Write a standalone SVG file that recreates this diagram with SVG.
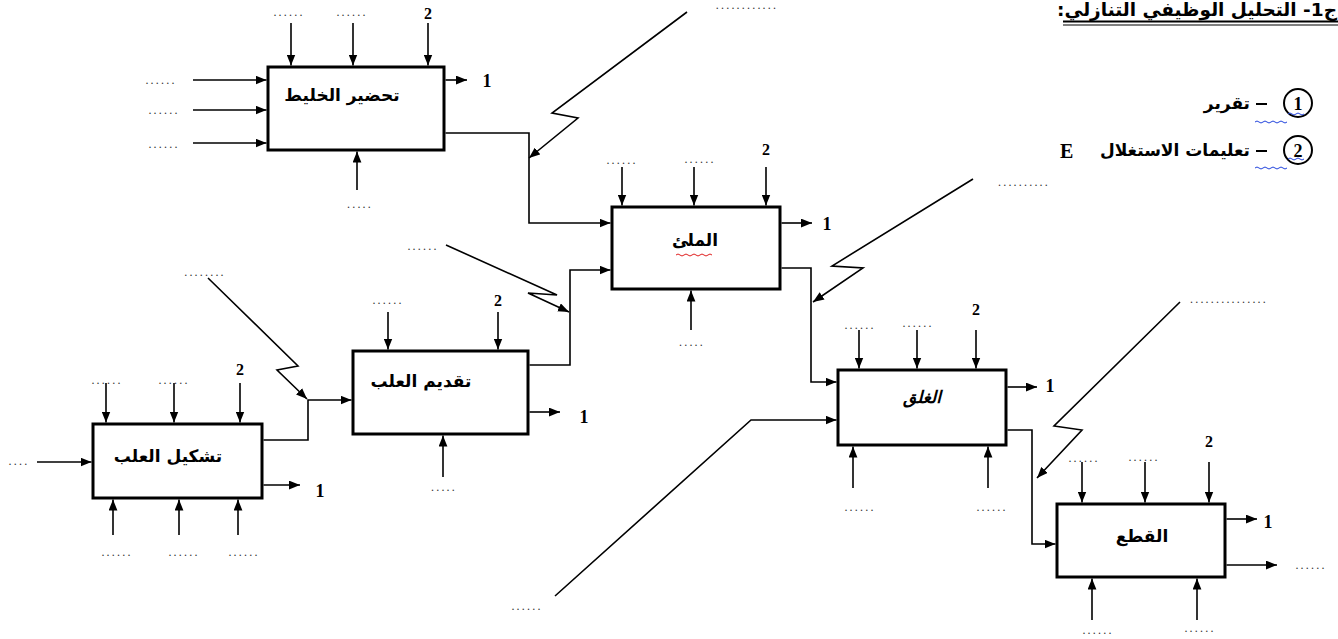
<svg xmlns="http://www.w3.org/2000/svg" width="1338" height="639" viewBox="0 0 1338 639">
<defs>
<style>
.box{fill:#fff;stroke:#000;stroke-width:3}
.ln{fill:none;stroke:#000;stroke-width:1.6}
.ar{marker-end:url(#ah)}
.dots{font-family:"Liberation Serif",serif;font-size:12px;letter-spacing:2.2px;fill:#333;text-anchor:middle}
.num{font-family:"Liberation Serif",serif;font-weight:bold;font-size:18px;fill:#000;text-anchor:middle}
.n2{font-family:"Liberation Serif",serif;font-weight:bold;font-size:16px;fill:#000;text-anchor:middle}
.lbl{font-family:"DejaVu Sans",sans-serif;font-weight:bold;font-size:17px;fill:#000;text-anchor:middle}
.ar-t{font-family:"DejaVu Sans",sans-serif;font-weight:bold;fill:#000}
.wv{fill:none;stroke-width:1}
</style>
<marker id="ah" viewBox="0 0 10 8" refX="10" refY="4" markerWidth="11" markerHeight="9" markerUnits="userSpaceOnUse" orient="auto"><path d="M0,0 L10,4 L0,8 z" fill="#000"/></marker>
</defs>
<rect width="1338" height="639" fill="#fff"/>

<!-- title -->
<g id="title">
<text class="ar-t" x="1337" y="16" font-size="18.5" direction="rtl" text-anchor="start">ج1- التحليل الوظيفي التنازلي:</text>
<line x1="1063" y1="21.5" x2="1338" y2="21.5" stroke="#000" stroke-width="2"/>
<line x1="1063" y1="25" x2="1338" y2="25" stroke="#000" stroke-width="1"/>
</g>

<!-- legend -->
<g id="legend">
<circle cx="1298" cy="103" r="14" fill="none" stroke="#000" stroke-width="2"/>
<text class="num" x="1298" y="110">1</text>
<line x1="1256" y1="104" x2="1267" y2="104" stroke="#000" stroke-width="2"/>
<text class="ar-t" x="1250" y="109" font-size="17" direction="rtl" text-anchor="start">تقرير</text>
<circle cx="1298" cy="150" r="14" fill="none" stroke="#000" stroke-width="2"/>
<text class="num" x="1298" y="157">2</text>
<line x1="1256" y1="151" x2="1267" y2="151" stroke="#000" stroke-width="2"/>
<text class="ar-t" x="1250" y="156" font-size="17" direction="rtl" text-anchor="start">تعليمات الاستغلال</text>
<text x="1060" y="158" font-family="Liberation Serif,serif" font-weight="bold" font-size="20">E</text>
<path class="wv" stroke="#2244dd" d="M1255,122 q2,-2 4,0 t4,0 t4,0 t4,0 t4,0 t4,0 t4,0 t4,0 M1288,114 q2,-2 4,0 t4,0 t4,0 t4,0"/>
<path class="wv" stroke="#2244dd" d="M1255,168 q2,-2 4,0 t4,0 t4,0 t4,0 t4,0 t4,0 t4,0 t4,0 M1288,159 q2,-2 4,0 t4,0 t4,0 t4,0"/>
</g>

<!-- nodes -->
<g id="n1">
<rect class="box" x="268" y="67" width="176" height="83"/>
<text class="lbl" x="342" y="101">تحضير الخليط</text>
</g>
<g id="n2">
<rect class="box" x="612" y="207" width="168" height="82"/>
<text class="lbl" x="695" y="246">الملئ</text>
<path class="wv" stroke="#e02020" d="M676,255 q2,-2 4,0 t4,0 t4,0 t4,0 t4,0 t4,0 t4,0 t4,0 t4,0"/>
</g>
<g id="n3">
<rect class="box" x="353" y="351" width="175" height="83"/>
<text class="lbl" x="421" y="387">تقديم العلب</text>
</g>
<g id="n4">
<rect class="box" x="93" y="424" width="169" height="74"/>
<text class="lbl" x="168" y="462">تشكيل العلب</text>
</g>
<g id="n5">
<rect class="box" x="838" y="370" width="168" height="75"/>
<text class="lbl" x="922" y="403" font-style="italic">الغلق</text>
</g>
<g id="n6">
<rect class="box" x="1057" y="504" width="168" height="73"/>
<text class="lbl" x="1142" y="542">القطع</text>
</g>

<!-- connectors -->
<g id="connectors">
<!-- n1 -->
<path class="ln ar" d="M291,23 V65.5"/>
<path class="ln ar" d="M353,23 V65.5"/>
<path class="ln ar" d="M428,23 V65.5"/>
<path class="ln ar" d="M193,80 H266.5"/>
<path class="ln ar" d="M193,110 H266.5"/>
<path class="ln ar" d="M193,143 H266.5"/>
<path class="ln ar" d="M445.5,80 H467"/>
<path class="ln ar" d="M357,190 V151.5"/>
<path class="ln ar" d="M445.5,133 H529 V223 H610.5"/>
<!-- n2 -->
<path class="ln ar" d="M622,167 V205.5"/>
<path class="ln ar" d="M694,167 V205.5"/>
<path class="ln ar" d="M766,167 V205.5"/>
<path class="ln ar" d="M781.5,223 H812"/>
<path class="ln ar" d="M691,330 V290.5"/>
<path class="ln ar" d="M781.5,268 H811 V382 H836.5"/>
<path class="ln ar" d="M687,12 L552,113 L578,118 L529,158"/>
<!-- n3 -->
<path class="ln ar" d="M388,312 V349.5"/>
<path class="ln ar" d="M498,312 V349.5"/>
<path class="ln ar" d="M529.5,412 H560"/>
<path class="ln ar" d="M443,477 V435.5"/>
<path class="ln ar" d="M529.5,365 H570 V270 H610.5"/>
<path class="ln ar" d="M446,245 L557,295 L528,293 L569,312"/>
<!-- n4 -->
<path class="ln ar" d="M106,383 V422.5"/>
<path class="ln ar" d="M174,383 V422.5"/>
<path class="ln ar" d="M240,383 V422.5"/>
<path class="ln ar" d="M37,462 H91.5"/>
<path class="ln ar" d="M263.5,485 H300"/>
<path class="ln ar" d="M113,535 V499.5"/>
<path class="ln ar" d="M179,535 V499.5"/>
<path class="ln ar" d="M238,535 V499.5"/>
<path class="ln ar" d="M263.5,440 H308 V400 H351.5"/>
<path class="ln ar" d="M208,278 L298,366 L277,370 L307,399"/>
<!-- n5 -->
<path class="ln ar" d="M859,330 V368.5"/>
<path class="ln ar" d="M917,330 V368.5"/>
<path class="ln ar" d="M976,330 V368.5"/>
<path class="ln ar" d="M1007.5,387 H1037"/>
<path class="ln ar" d="M853,488 V446.5"/>
<path class="ln ar" d="M988,488 V446.5"/>
<path class="ln ar" d="M555,596 L751,420 H836.5"/>
<path class="ln ar" d="M973,179 L832,266 L863,268 L813,302"/>
<path class="ln ar" d="M1007.5,430 H1032 V544 H1055.5"/>
<!-- n6 -->
<path class="ln ar" d="M1082,462 V502.5"/>
<path class="ln ar" d="M1145,462 V502.5"/>
<path class="ln ar" d="M1209,462 V502.5"/>
<path class="ln ar" d="M1226.5,519 H1257"/>
<path class="ln ar" d="M1226.5,565 H1277"/>
<path class="ln ar" d="M1092,620 V578.5"/>
<path class="ln ar" d="M1197,620 V578.5"/>
<path class="ln ar" d="M1180,302 L1054,426 L1082,430 L1037,478"/>
</g>

<!-- connector labels -->
<g id="labels">
<!-- n1 -->
<text class="dots" x="289" y="16">......</text>
<text class="dots" x="352" y="16">......</text>
<text class="n2" x="428" y="19">2</text>
<text class="dots" x="161" y="84">......</text>
<text class="dots" x="164" y="114">......</text>
<text class="dots" x="164" y="148">......</text>
<text class="num" x="487" y="87">1</text>
<text class="dots" x="360" y="208">.....</text>
<!-- n2 -->
<text class="dots" x="622" y="164">......</text>
<text class="dots" x="700" y="163">......</text>
<text class="n2" x="766" y="155">2</text>
<text class="num" x="827" y="230">1</text>
<text class="dots" x="692" y="346">.....</text>
<text class="dots" x="747" y="9">............</text>
<!-- n3 -->
<text class="dots" x="388" y="304">......</text>
<text class="n2" x="498" y="306">2</text>
<text class="num" x="584" y="423">1</text>
<text class="dots" x="444" y="491">.....</text>
<text class="dots" x="423" y="250">......</text>
<!-- n4 -->
<text class="dots" x="107" y="384">......</text>
<text class="dots" x="174" y="384">......</text>
<text class="n2" x="240" y="375">2</text>
<text class="dots" x="19" y="465">....</text>
<text class="num" x="320" y="497">1</text>
<text class="dots" x="117" y="556">......</text>
<text class="dots" x="184" y="556">......</text>
<text class="dots" x="244" y="556">......</text>
<text class="dots" x="205" y="276">........</text>
<!-- n5 -->
<text class="dots" x="860" y="329">......</text>
<text class="dots" x="918" y="327">......</text>
<text class="n2" x="976" y="315">2</text>
<text class="num" x="1050" y="392">1</text>
<text class="dots" x="860" y="511">......</text>
<text class="dots" x="992" y="511">......</text>
<text class="dots" x="1024" y="186">..........</text>
<text class="dots" x="527" y="610">......</text>
<!-- n6 -->
<text class="dots" x="1084" y="462">......</text>
<text class="dots" x="1144" y="461">......</text>
<text class="n2" x="1209" y="447">2</text>
<text class="num" x="1268" y="528">1</text>
<text class="dots" x="1311" y="569">......</text>
<text class="dots" x="1098" y="634">......</text>
<text class="dots" x="1200" y="632">......</text>
<text class="dots" x="1229" y="303">...............</text>
</g>
</svg>
